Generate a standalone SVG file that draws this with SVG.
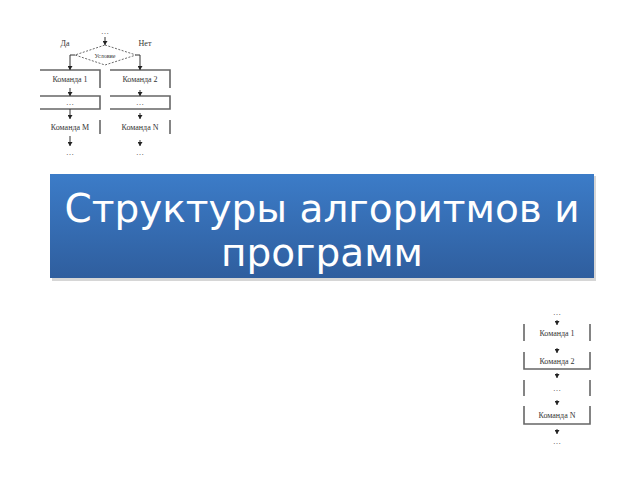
<svg xmlns="http://www.w3.org/2000/svg" width="640" height="480" viewBox="0 0 640 480">
<style>
.lbl{font-family:"Liberation Serif",serif;font-size:8px;fill:#333;text-anchor:middle}
.edge{stroke:#666;stroke-width:1.6;fill:none}
.con{stroke:#333;stroke-width:1;fill:none}
.ttl{font-family:"DejaVu Sans",sans-serif;font-size:39px;fill:#fff;text-anchor:middle}
</style>
<defs>
<linearGradient id="g" x1="0" y1="0" x2="0" y2="1">
<stop offset="0" stop-color="#3c7cc8"/>
<stop offset="1" stop-color="#2f5e9e"/>
</linearGradient>
<marker id="a" markerWidth="4" markerHeight="5" refX="4" refY="2.5" orient="auto" markerUnits="userSpaceOnUse" viewBox="0 0 4 5">
<path d="M0,0 L4,2.5 L0,5 Z" fill="#222"/>
</marker>
</defs>
<rect width="640" height="480" fill="#fff"/>

<g id="title">
<rect x="52" y="176" width="544" height="105" fill="#bbb" opacity="0.6"/>
<rect x="50" y="174" width="544" height="104" fill="url(#g)"/>
<text class="ttl" x="322" y="222">Структуры алгоритмов и</text>
<text class="ttl" x="322" y="266">программ</text>
</g>

<g id="branch">
<text class="lbl" x="105" y="34">…</text>
<text class="lbl" x="65" y="46">Да</text>
<text class="lbl" x="145" y="46">Нет</text>
<g id="cond">
<polygon points="105,45 136,55 105,65 75,55" fill="none" stroke="#444" stroke-width="0.8" stroke-dasharray="2,1.5"/>
<text class="lbl" x="105" y="58" style="font-size:6px">Условие</text>
</g>
<g id="cmd1">
<path class="edge" d="M40,70 H100 V88"/>
<text class="lbl" x="70" y="82">Команда 1</text>
</g>
<g id="cmd2">
<path class="edge" d="M110,70 H170 V88"/>
<text class="lbl" x="140" y="82">Команда 2</text>
</g>
<g id="dotsL">
<path class="edge" d="M40,96 H100 V109 H40"/>
<text class="lbl" x="70" y="105">…</text>
</g>
<g id="dotsR">
<path class="edge" d="M110,96 H170 V109 H110"/>
<text class="lbl" x="140" y="105">…</text>
</g>
<g id="cmdM">
<path class="edge" d="M100,120 V134"/>
<text class="lbl" x="70" y="130">Команда M</text>
</g>
<g id="cmdN">
<path class="edge" d="M170,120 V134"/>
<text class="lbl" x="140" y="130">Команда N</text>
</g>
<text class="lbl" x="70" y="155">…</text>
<text class="lbl" x="140" y="155">…</text>
</g>

<g id="seq">
<text class="lbl" x="557" y="315">…</text>
<g id="s1">
<path class="edge" d="M524,324 V341 M590,324 V341"/>
<text class="lbl" x="557" y="336">Команда 1</text>
</g>
<g id="s2">
<path class="edge" d="M524,352 V369 H590 V352"/>
<text class="lbl" x="557" y="364">Команда 2</text>
</g>
<g id="s3">
<path class="edge" d="M524,380 V396 M590,380 V396"/>
<text class="lbl" x="557" y="391">…</text>
</g>
<g id="s4">
<path class="edge" d="M524,406 V424 H590 V406"/>
<text class="lbl" x="557" y="418">Команда N</text>
</g>
<text class="lbl" x="557" y="444">…</text>
</g>

<g id="connectors">
<path class="con" d="M105,37 V45" marker-end="url(#a)"/>
<path class="con" d="M75,55 H70 V70" marker-end="url(#a)"/>
<path class="con" d="M136,55 H140 V70" marker-end="url(#a)"/>
<path class="con" d="M70,88 V96" marker-end="url(#a)"/>
<path class="con" d="M140,90 V96" marker-end="url(#a)"/>
<path class="con" d="M70,109 V119" marker-end="url(#a)"/>
<path class="con" d="M140,113 V119" marker-end="url(#a)"/>
<path class="con" d="M70,136 V146" marker-end="url(#a)"/>
<path class="con" d="M140,140 V146" marker-end="url(#a)"/>
<path class="con" d="M557,320 V325" marker-end="url(#a)"/>
<path class="con" d="M557,348 V353" marker-end="url(#a)"/>
<path class="con" d="M557,373 V378" marker-end="url(#a)"/>
<path class="con" d="M557,400 V405" marker-end="url(#a)"/>
<path class="con" d="M557,429 V434" marker-end="url(#a)"/>
</g>
</svg>
